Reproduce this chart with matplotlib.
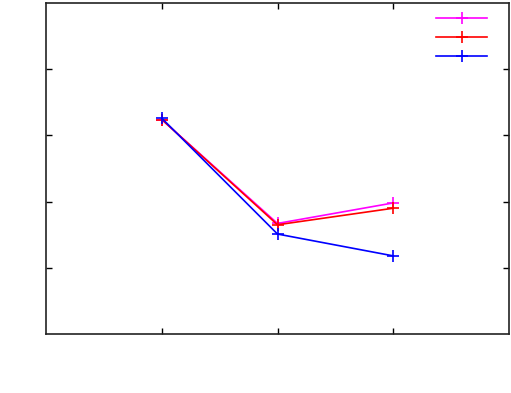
import matplotlib
matplotlib.use('Agg')
import matplotlib.pyplot as plt

x = [1, 2, 3]
y_magenta = [3.24, 1.67, 1.98]
y_red = [3.24, 1.65, 1.90]
y_blue = [3.26, 1.51, 1.18]
colors = ['#ff00ff', '#ff0000', '#0000ff']

fig = plt.figure(figsize=(5.11, 3.93), dpi=100)
ax = fig.add_axes([46 / 511, 59 / 393, 463 / 511, 331 / 393])

lines = []
for y, c in zip([y_magenta, y_red, y_blue], colors):
    ln, = ax.plot(x, y, color=c, lw=1.2, marker='+', ms=8, mew=1.2)
    lines.append(ln)

ax.set_xlim(0, 4)
ax.set_ylim(0, 5)
ax.set_xticks([1, 2, 3])
ax.set_yticks([1, 2, 3, 4])
ax.tick_params(direction='in', length=4, width=1, top=True, right=True,
               labelbottom=False, labelleft=False)
for s in ax.spines.values():
    s.set_linewidth(1.2)
    s.set_color('#222222')

ax.legend(lines, ['', '', ''], loc='upper right', frameon=False,
          bbox_to_anchor=(0.974, 1.003),
          handlelength=3.7, handletextpad=0, labelspacing=0.37,
          borderaxespad=0.3, markerscale=1.0)

fig.savefig('out.png', dpi=100)
